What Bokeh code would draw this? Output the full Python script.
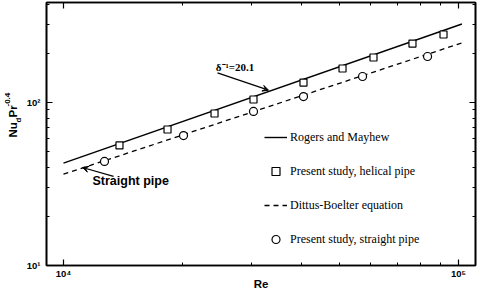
from bokeh.plotting import figure
from bokeh.layouts import row
from bokeh.models import (Range1d, FixedTicker, LogAxis, Label, Arrow, VeeHead,
                          Legend, LegendItem, ColumnDataSource)
from bokeh.embed import file_html
from bokeh.resources import INLINE
import math

# ---- data ----
re_line = [1.0e4, 1.02e5]
nu_rogers = [42.5, 303.0]
nu_dittus = [36.3, 232.0]

re_helical = [13860, 18340, 24120, 30270, 40510, 50860, 60920, 76460, 91620]
nu_helical = [54.5, 68.3, 85.6, 104.3, 132.6, 161.7, 188.8, 230.0, 261.4]

re_straight = [12700, 20130, 30270, 40510, 57150, 83480]
nu_straight = [43.5, 62.7, 88.1, 108.8, 144.4, 191.5]

x_major = [1e4, 1e5]
x_minor = [2e4, 3e4, 4e4, 5e4, 6e4, 7e4, 8e4, 9e4]
y_major = [10, 100]
y_minor = [20, 30, 40, 50, 60, 70, 80, 90, 200, 300, 400]
x_labels = {10000: "10\u2074", 100000: "10\u2075"}
y_labels = {10: "10\u00b9", 100: "10\u00b2"}

legend_names = ["Rogers and Mayhew", "Present study, helical pipe",
                "Dittus-Boelter equation", "Present study, straight pipe"]
x_title = "Re"
# y title pieces: text, font size, shift (+ = subscript)
y_title = [("Nu", "11.5px", 0), ("d", "8px", 5), ("Pr", "11.5px", 0),
           ("-0.4", "8px", -6)]

# annotation anchors (data units)
delta_text = "\u03b4\u207b\u00b9=20.1"
delta_pos = (24300, 166)
delta_arrow = (24540, 152, 33040, 119)
straight_text = "Straight pipe"
straight_pos = (11840, 33.2)
straight_arrow = (13390, 35.2, 11170, 39.9)

LW = 22  # width of the strip that carries the vertical axis title

p = figure(width=480 - LW, height=292, x_axis_type="log", y_axis_type="log",
           x_range=Range1d(9058, 110400), y_range=Range1d(10, 410.7),
           output_backend="svg", toolbar_location=None,
           min_border_left=46 - LW, min_border_right=5, min_border_top=2,
           min_border_bottom=27)
p.grid.visible = False
p.outline_line_color = "black"
p.outline_line_width = 1.6
p.background_fill_color = "white"
p.border_fill_color = "white"

xt = FixedTicker(ticks=x_major, minor_ticks=x_minor)
yt = FixedTicker(ticks=y_major, minor_ticks=y_minor)

def style_axis(ax, labels, show):
    ax.axis_line_color = "black"
    ax.axis_line_width = 1.6
    ax.major_tick_in = 6
    ax.major_tick_out = 0
    ax.minor_tick_in = 3
    ax.minor_tick_out = 0
    ax.major_tick_line_color = "black"
    ax.minor_tick_line_color = "black"
    ax.major_tick_line_width = 1.2
    ax.minor_tick_line_width = 1
    if show:
        ax.major_label_overrides = labels
        ax.major_label_text_font = "Liberation Sans"
        ax.major_label_text_font_style = "bold"
        ax.major_label_text_font_size = "9.5px"
        ax.major_label_text_color = "black"
        ax.major_label_standoff = 6
    else:
        ax.major_label_text_font_size = "1px"
        ax.major_label_text_alpha = 0
        ax.major_label_standoff = 0

p.xaxis[0].ticker = xt
p.yaxis[0].ticker = yt
style_axis(p.xaxis[0], x_labels, True)
style_axis(p.yaxis[0], y_labels, True)
p.xaxis[0].major_label_standoff = 2
p.xaxis[0].axis_label = x_title
p.xaxis[0].axis_label_standoff = -4
p.xaxis[0].axis_label_text_font = "Liberation Sans"
p.xaxis[0].axis_label_text_font_style = "bold"
p.xaxis[0].axis_label_text_font_size = "11.5px"
p.xaxis[0].axis_label_text_color = "black"

top = LogAxis(ticker=FixedTicker(ticks=x_major, minor_ticks=x_minor))
right = LogAxis(ticker=FixedTicker(ticks=y_major, minor_ticks=y_minor))
style_axis(top, {}, False)
style_axis(right, {}, False)
p.add_layout(top, "above")
p.add_layout(right, "right")

src_line = ColumnDataSource(dict(x=re_line, rm=nu_rogers, db=nu_dittus))
r1 = p.line("x", "rm", source=src_line, line_color="black", line_width=1.4)
r3 = p.line("x", "db", source=src_line, line_color="black", line_width=1.3,
            line_dash="5 4")
r2 = p.scatter(re_helical, nu_helical, marker="square", size=7,
               fill_color="white", line_color="black", line_width=1.2)
r4 = p.scatter(re_straight, nu_straight, marker="circle", size=8,
               fill_color="white", line_color="black", line_width=1.2)

legend = Legend(items=[LegendItem(label=legend_names[0], renderers=[r1]),
                       LegendItem(label=legend_names[1], renderers=[r2]),
                       LegendItem(label=legend_names[2], renderers=[r3]),
                       LegendItem(label=legend_names[3], renderers=[r4])],
                location=(218, 16), padding=0, margin=0, spacing=14,
                glyph_width=23, glyph_height=20, label_height=20,
                label_standoff=3, border_line_alpha=0,
                background_fill_alpha=0,
                label_text_font="Liberation Serif",
                label_text_font_size="12px", label_text_color="black")
p.add_layout(legend)

# annotations
p.add_layout(Label(x=delta_pos[0], y=delta_pos[1], text=delta_text,
                   text_font="Liberation Serif", text_font_style="bold",
                   text_font_size="11px", text_baseline="middle",
                   text_align="left", text_color="black"))
p.add_layout(Arrow(x_start=delta_arrow[0], y_start=delta_arrow[1],
                   x_end=delta_arrow[2], y_end=delta_arrow[3],
                   line_width=1.2, end=VeeHead(size=6, fill_color="black",
                                              line_width=1)))
p.add_layout(Label(x=straight_pos[0], y=straight_pos[1], text=straight_text,
                   text_font="Liberation Sans", text_font_style="bold",
                   text_font_size="12.5px", text_baseline="middle",
                   text_align="left", text_color="black"))
p.add_layout(Arrow(x_start=straight_arrow[0], y_start=straight_arrow[1],
                   x_end=straight_arrow[2], y_end=straight_arrow[3],
                   line_width=1.2, end=VeeHead(size=6, fill_color="black",
                                              line_width=1)))

# strip with the vertical axis title (its frame fills the whole strip)
yl = figure(width=LW, height=292, output_backend="svg", toolbar_location=None,
            x_axis_location=None, y_axis_location=None,
            min_border=0, x_range=Range1d(0, 1), y_range=Range1d(0, 1))
yl.grid.visible = False
yl.outline_line_color = None
yl.background_fill_color = "white"
yl.border_fill_color = "white"
starts = [128, 143, 148, 159]  # screen offsets along the title
for (t, fs, shift), sy in zip(y_title, starts):
    yl.add_layout(Label(x=12.5 + shift, y=sy, x_units="screen",
                        y_units="screen", text=t, angle=math.pi / 2,
                        text_font="Liberation Sans", text_font_style="bold",
                        text_font_size=fs, text_baseline="middle",
                        text_align="left", text_color="black"))

layout = row(yl, p, spacing=0)
open("out.html", "w").write(file_html(layout, INLINE))
